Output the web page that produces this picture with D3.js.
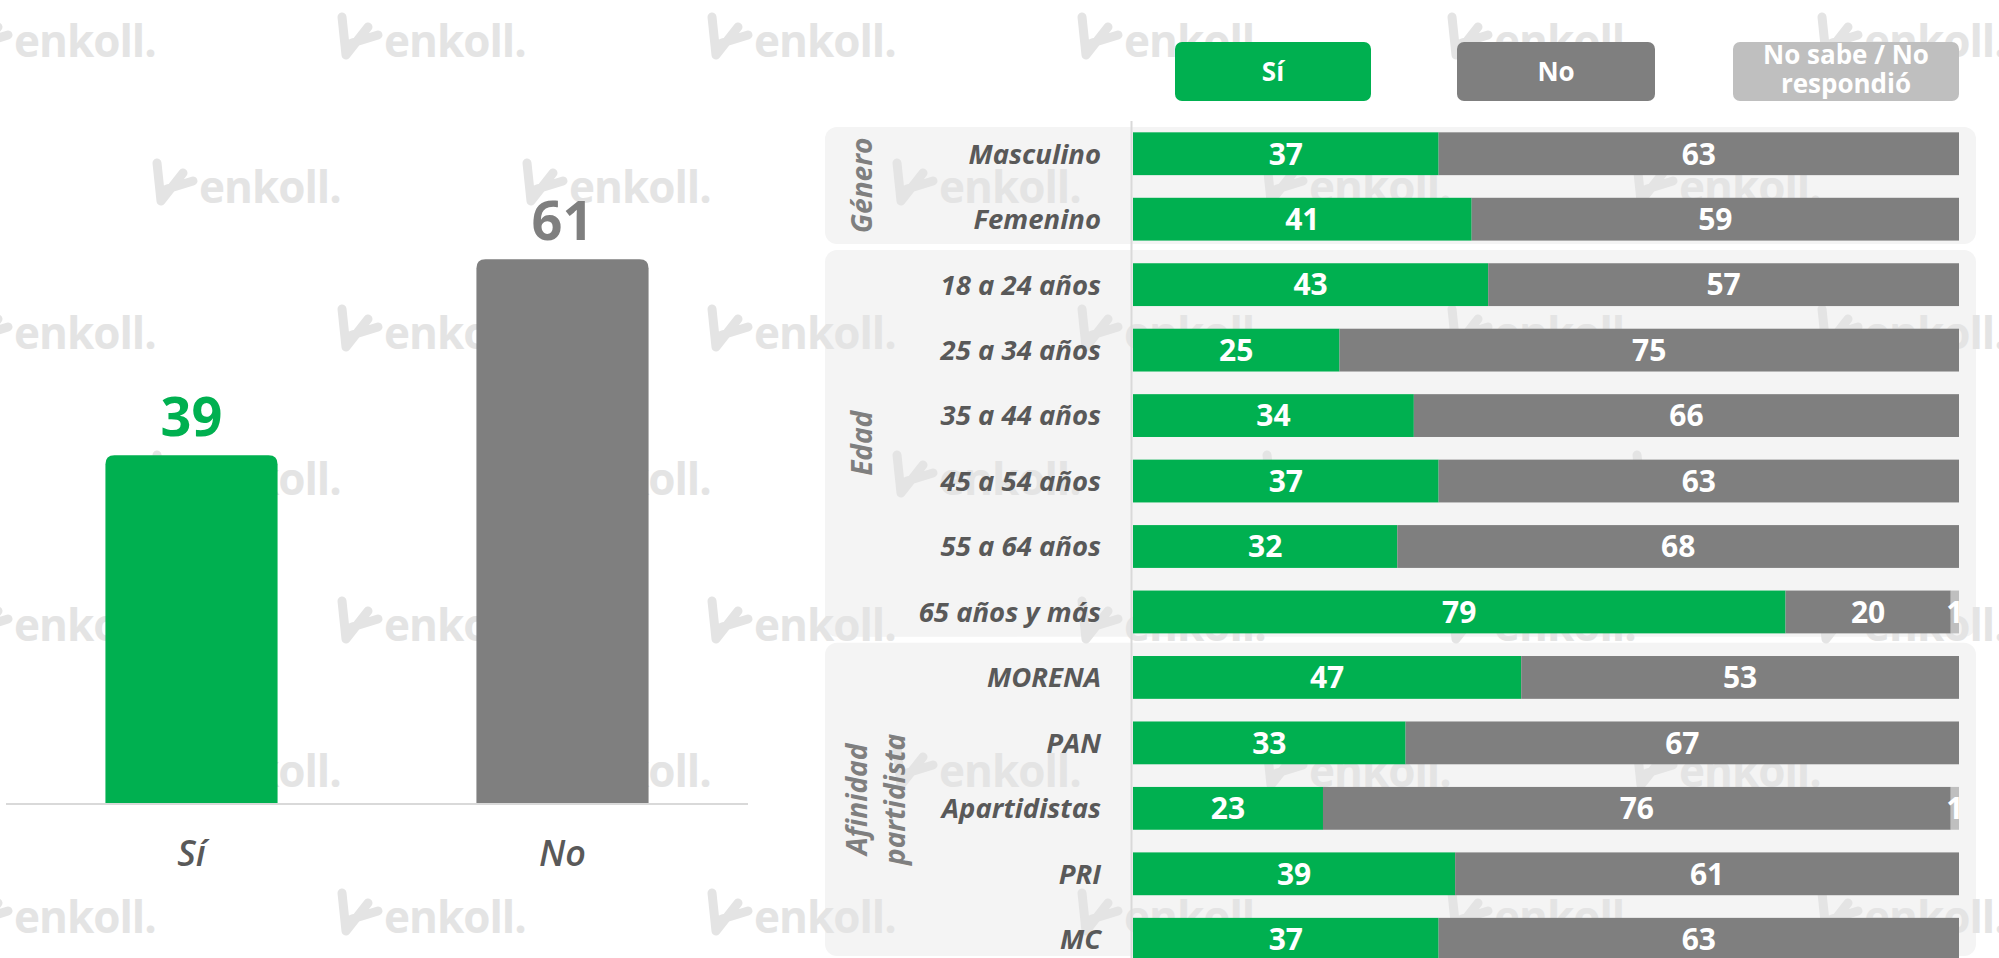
<!DOCTYPE html>
<html>
<head>
<meta charset="utf-8">
<script src="https://cdn.jsdelivr.net/npm/d3@7"></script>
<style>
  html, body { margin: 0; padding: 0; background: #fff; }
  svg { display: block; font-family: 'Open Sans', 'DejaVu Sans', sans-serif; }
</style>
</head>
<body>
<div id="chart"></div>
<script>
// Total
const totalCats = ['Sí', 'No'];
const totalValues = [39, 61];

// Breakdown
const rowLabels = ['Masculino', 'Femenino', '18 a 24 años', '25 a 34 años', '35 a 44 años',
    '45 a 54 años', '55 a 64 años', '65 años y más', 'MORENA', 'PAN', 'Apartidistas', 'PRI', 'MC'];
const siValues = [37, 41, 43, 25, 34, 37, 32, 79, 47, 33, 23, 39, 37];
const noValues = [63, 59, 57, 75, 66, 63, 68, 20, 53, 67, 76, 61, 63];
const nsValues = [0, 0, 0, 0, 0, 0, 0, 1, 0, 0, 1, 0, 0];

const groupNames = [['Género'], ['Edad'], ['Afinidad', 'partidista']];
const groupSizes = [2, 6, 5];

const seriesKeys = ['si', 'no', 'ns'];
const legendLabels = [['Sí'], ['No'], ['No sabe / No', 'respondió']];
const colors = { si: '#00B050', no: '#7F7F7F', ns: '#BFBFBF' };

const width = 1999, height = 958;

const svg = d3.select('#chart')
    .append('svg')
    .attr('width', width)
    .attr('height', height);

// ---------- right side: group panels ----------
const y = d3.scaleBand()
    .domain(rowLabels)
    .range([121, 972])
    .paddingInner(0.346)
    .paddingOuter(0.173);

const x = d3.scaleLinear().domain([0, 100]).range([1133, 1959]);

let start = 0;
const panels = groupSizes.map((n, i) => {
    const first = rowLabels[start], last = rowLabels[start + n - 1];
    start += n;
    return { i, first, last, names: groupNames[i] };
});
panels.forEach((p, i) => {
    const stepTop = y(p.first) - y.step() * y.paddingInner() / 2;
    p.top = i === 0 ? stepTop + 6 : stepTop - 2;
});
panels.forEach((p, i) => {
    p.bottom = i < panels.length - 1 ? panels[i + 1].top - 6 : 956;
});

svg.append('g')
    .selectAll('rect')
    .data(panels)
    .enter().append('rect')
    .attr('x', 825)
    .attr('y', d => d.top)
    .attr('width', 1976 - 825)
    .attr('height', d => d.bottom - d.top)
    .attr('rx', 12)
    .attr('fill', '#f4f4f4');

// ---------- watermark ----------
const wm = svg.append('g').attr('fill', '#e4e4e4').attr('stroke', '#e4e4e4');
for (let r = 0; r < 7; r++) {
    const base = 57 + r * 146;
    const off = r % 2 === 0 ? -32 : 153;
    for (let c = 0; c < 6; c++) {
        const lx = off + c * 370;
        const g = wm.append('g').attr('transform', `translate(${lx},${base})`);
        g.append('path')
            .attr('d', 'M4,-40 L8,-2 M8,-2 L30,-30 M14,-14 L40,-22')
            .attr('fill', 'none')
            .attr('stroke-width', 9)
            .attr('stroke-linecap', 'round');
        g.append('text')
            .attr('x', 46)
            .attr('stroke', 'none')
            .attr('font-size', 44)
            .attr('font-weight', 700)
            .attr('letter-spacing', -1)
            .text('enkoll.');
    }
}

// ---------- left chart ----------
const bx = d3.scaleBand()
    .domain(totalCats)
    .range([6, 748])
    .paddingInner(0.536)
    .paddingOuter(0.268);

const by = d3.scaleLinear().domain([0, 70]).range([803, 179]);
const totalColors = [colors.si, colors.no];

function topRounded(x0, y0, w, h, r) {
    return `M${x0},${y0 + h} V${y0 + r} Q${x0},${y0} ${x0 + r},${y0} H${x0 + w - r} Q${x0 + w},${y0} ${x0 + w},${y0 + r} V${y0 + h} Z`;
}

svg.append('g')
    .selectAll('path')
    .data(totalValues)
    .enter().append('path')
    .attr('d', (d, i) => topRounded(bx(totalCats[i]), by(d), bx.bandwidth(), by(0) - by(d), 9))
    .attr('fill', (d, i) => totalColors[i]);

svg.append('line')
    .attr('x1', 6).attr('x2', 748)
    .attr('y1', 804).attr('y2', 804)
    .attr('stroke', '#d9d9d9')
    .attr('stroke-width', 2);

svg.append('g')
    .selectAll('text')
    .data(totalValues)
    .enter().append('text')
    .attr('x', (d, i) => bx(totalCats[i]) + bx.bandwidth() / 2)
    .attr('y', d => by(d) - 19)
    .attr('text-anchor', 'middle')
    .attr('font-size', 54)
    .attr('font-weight', 700)
    .attr('fill', (d, i) => totalColors[i])
    .text(d => d);

svg.append('g')
    .selectAll('text')
    .data(totalCats)
    .enter().append('text')
    .attr('x', d => bx(d) + bx.bandwidth() / 2)
    .attr('y', 866)
    .attr('text-anchor', 'middle')
    .attr('font-size', 36)
    .attr('font-weight', 600)
    .attr('font-style', 'italic')
    .attr('fill', '#595959')
    .text(d => d);

// ---------- right chart: stacked bars ----------
const rows = rowLabels.map((label, i) => ({ label, si: siValues[i], no: noValues[i], ns: nsValues[i] }));
const stacked = d3.stack().keys(seriesKeys)(rows);

svg.append('line')
    .attr('x1', 1131.5).attr('x2', 1131.5)
    .attr('y1', 121).attr('y2', 958)
    .attr('stroke', '#d9d9d9')
    .attr('stroke-width', 2);

const layer = svg.append('g')
    .selectAll('g')
    .data(stacked)
    .enter().append('g')
    .attr('fill', d => colors[d.key]);

layer.selectAll('rect')
    .data(d => d)
    .enter().append('rect')
    .attr('x', d => x(d[0]))
    .attr('y', d => y(d.data.label))
    .attr('width', d => x(d[1]) - x(d[0]))
    .attr('height', y.bandwidth());

layer.selectAll('text')
    .data(d => d.filter(s => s[1] - s[0] > 0))
    .enter().append('text')
    .attr('x', d => (x(d[0]) + x(d[1])) / 2)
    .attr('y', d => y(d.data.label) + y.bandwidth() / 2)
    .attr('dy', '0.36em')
    .attr('text-anchor', 'middle')
    .attr('font-size', 30)
    .attr('font-weight', 700)
    .attr('fill', '#fff')
    .text(d => d[1] - d[0]);

// row labels
svg.append('g')
    .selectAll('text')
    .data(rowLabels)
    .enter().append('text')
    .attr('x', 1101)
    .attr('y', d => y(d) + y.bandwidth() / 2)
    .attr('dy', '0.36em')
    .attr('text-anchor', 'end')
    .attr('font-size', 27.5)
    .attr('font-weight', 700)
    .attr('font-style', 'italic')
    .attr('fill', '#595959')
    .text(d => d);

// group labels (rotated)
const gl = svg.append('g')
    .selectAll('text')
    .data(panels)
    .enter().append('text')
    .attr('transform', d => `translate(0,${(d.top + d.bottom) / 2}) rotate(-90)`)
    .attr('text-anchor', 'middle')
    .attr('font-size', 28)
    .attr('font-weight', 700)
    .attr('font-style', 'italic')
    .attr('fill', '#7f7f7f');

gl.selectAll('tspan')
    .data(d => d.names.map((t, k) => ({ t, k, n: d.names.length })))
    .enter().append('tspan')
    .attr('x', 0)
    .attr('y', d => d.n === 1 ? 872 : 867 + d.k * 38)
    .text(d => d.t);

// ---------- legend ----------
const legendX = [1175, 1457, 1733];
const legendW = [196, 198, 226];

const lg = svg.append('g')
    .selectAll('g')
    .data(seriesKeys)
    .enter().append('g')
    .attr('transform', (d, i) => `translate(${legendX[i]},42)`);

lg.append('rect')
    .attr('width', (d, i) => legendW[i])
    .attr('height', 59)
    .attr('rx', 7)
    .attr('fill', d => colors[d]);

lg.append('text')
    .attr('text-anchor', 'middle')
    .attr('font-size', 26)
    .attr('font-weight', 700)
    .attr('fill', '#fff')
    .selectAll('tspan')
    .data((d, i) => legendLabels[i].map((t, k) => ({ t, k, n: legendLabels[i].length, w: legendW[i] })))
    .enter().append('tspan')
    .attr('x', d => d.w / 2)
    .attr('y', d => d.n === 1 ? 39 : 22 + d.k * 29)
    .text(d => d.t);
</script>
</body>
</html>
